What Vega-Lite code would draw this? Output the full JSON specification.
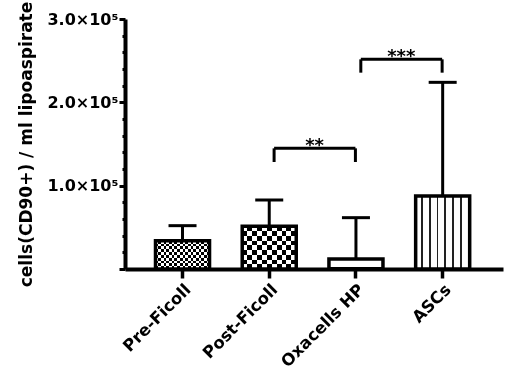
{
  "$schema": "https://vega.github.io/schema/vega-lite/v6.json",
  "width": 378,
  "height": 250,
  "autosize": {"type": "none"},
  "padding": {"left": 125, "top": 19, "right": 11, "bottom": 109},
  "background": "white",
  "config": {
    "view": {"stroke": null},
    "font": "DejaVu Sans",
    "axis": {"grid": false, "domainColor": "black", "tickColor": "black", "labelColor": "black", "titleColor": "black", "labelFont": "DejaVu Sans", "titleFont": "DejaVu Sans", "labelFontWeight": "bold", "titleFontWeight": "bold"}
  },
  "datasets": {
    "bars": [
      {"group": "Pre-Ficoll", "mean": 34000, "upper": 52000},
      {"group": "Post-Ficoll", "mean": 51200, "upper": 82800},
      {"group": "Oxacells HP", "mean": 12000, "upper": 61600},
      {"group": "ASCs", "mean": 87600, "upper": 224000}
    ],
    "brackets": [
      {"from": "Post-Ficoll", "to": "Oxacells HP", "top": 144800, "bottom": 128400, "label": "**"},
      {"from": "Oxacells HP", "to": "ASCs", "top": 251600, "bottom": 235600, "label": "***"}
    ]
  },
  "data": {"name": "bars"},
  "encoding": {
    "x": {
      "field": "group", "type": "nominal", "sort": null,
      "scale": {"paddingInner": 0.377, "paddingOuter": 0.368, "align": 0.478},
      "axis": {"title": null, "domainWidth": 4, "tickWidth": 3.5, "tickSize": 9, "labelAngle": -45, "labelAlign": "right", "labelBaseline": "top", "labelFontSize": 16.5, "labelPadding": 3}
    },
    "y": {
      "field": "mean", "type": "quantitative",
      "scale": {"domain": [0, 300000], "nice": false},
      "axis": {
        "title": "cells(CD90+) / ml lipoaspirate", "titleFontSize": 17, "titlePadding": 11,
        "domainWidth": 4, "tickWidth": 3,
        "values": [0, 20000, 40000, 60000, 80000, 100000, 120000, 140000, 160000, 180000, 200000, 220000, 240000, 260000, 280000, 300000],
        "tickSize": {"condition": {"test": "datum.value % 100000 === 0", "value": 6}, "value": 3},
        "labelExpr": "datum.value > 0 && datum.value % 100000 === 0 ? format(datum.value / 100000, '.1f') + '×10⁵' : ''",
        "labelFontSize": 16, "labelPadding": 1
      }
    }
  },
  "layer": [
    {"mark": {"type": "rule", "strokeWidth": 3, "color": "black"}, "encoding": {"y2": {"field": "upper"}}},
    {"mark": {"type": "tick", "size": 28, "thickness": 3, "color": "black", "opacity": 1}, "encoding": {"y": {"field": "upper", "type": "quantitative"}}},
    {
      "transform": [{"filter": "datum.group === 'Pre-Ficoll'"}],
      "mark": {"type": "bar", "fill": {"gradient": "linear", "x1": 0, "y1": 0, "x2": 1, "y2": 0, "stops": [
        {"offset": 0, "color": "black"}, {"offset": 0.05, "color": "black"}, {"offset": 0.05, "color": "white"}, {"offset": 0.1, "color": "white"},
        {"offset": 0.1, "color": "black"}, {"offset": 0.15, "color": "black"}, {"offset": 0.15, "color": "white"}, {"offset": 0.2, "color": "white"},
        {"offset": 0.2, "color": "black"}, {"offset": 0.25, "color": "black"}, {"offset": 0.25, "color": "white"}, {"offset": 0.3, "color": "white"},
        {"offset": 0.3, "color": "black"}, {"offset": 0.35, "color": "black"}, {"offset": 0.35, "color": "white"}, {"offset": 0.4, "color": "white"},
        {"offset": 0.4, "color": "black"}, {"offset": 0.45, "color": "black"}, {"offset": 0.45, "color": "white"}, {"offset": 0.5, "color": "white"},
        {"offset": 0.5, "color": "black"}, {"offset": 0.55, "color": "black"}, {"offset": 0.55, "color": "white"}, {"offset": 0.6, "color": "white"},
        {"offset": 0.6, "color": "black"}, {"offset": 0.65, "color": "black"}, {"offset": 0.65, "color": "white"}, {"offset": 0.7, "color": "white"},
        {"offset": 0.7, "color": "black"}, {"offset": 0.75, "color": "black"}, {"offset": 0.75, "color": "white"}, {"offset": 0.8, "color": "white"},
        {"offset": 0.8, "color": "black"}, {"offset": 0.85, "color": "black"}, {"offset": 0.85, "color": "white"}, {"offset": 0.9, "color": "white"},
        {"offset": 0.9, "color": "black"}, {"offset": 0.95, "color": "black"}, {"offset": 0.95, "color": "white"}, {"offset": 1, "color": "white"}
      ]}, "fillOpacity": 1}
    },
    {
      "transform": [{"filter": "datum.group === 'Pre-Ficoll'"}],
      "mark": {"type": "bar", "blend": "difference", "fill": {"gradient": "linear", "x1": 0, "y1": 0, "x2": 0, "y2": 1, "stops": [
        {"offset": 0, "color": "white"}, {"offset": 0.1, "color": "white"}, {"offset": 0.1, "color": "rgba(255,255,255,0)"}, {"offset": 0.2, "color": "rgba(255,255,255,0)"},
        {"offset": 0.2, "color": "white"}, {"offset": 0.3, "color": "white"}, {"offset": 0.3, "color": "rgba(255,255,255,0)"}, {"offset": 0.4, "color": "rgba(255,255,255,0)"},
        {"offset": 0.4, "color": "white"}, {"offset": 0.5, "color": "white"}, {"offset": 0.5, "color": "rgba(255,255,255,0)"}, {"offset": 0.6, "color": "rgba(255,255,255,0)"},
        {"offset": 0.6, "color": "white"}, {"offset": 0.7, "color": "white"}, {"offset": 0.7, "color": "rgba(255,255,255,0)"}, {"offset": 0.8, "color": "rgba(255,255,255,0)"},
        {"offset": 0.8, "color": "white"}, {"offset": 0.9, "color": "white"}, {"offset": 0.9, "color": "rgba(255,255,255,0)"}, {"offset": 1, "color": "rgba(255,255,255,0)"}
      ]}, "fillOpacity": 1}
    },
    {
      "transform": [{"filter": "datum.group === 'Post-Ficoll'"}],
      "mark": {"type": "bar", "fill": {"gradient": "linear", "x1": 0, "y1": 0, "x2": 1, "y2": 0, "stops": [
        {"offset": 0, "color": "black"}, {"offset": 0.0909, "color": "black"}, {"offset": 0.0909, "color": "white"}, {"offset": 0.1818, "color": "white"},
        {"offset": 0.1818, "color": "black"}, {"offset": 0.2727, "color": "black"}, {"offset": 0.2727, "color": "white"}, {"offset": 0.3636, "color": "white"},
        {"offset": 0.3636, "color": "black"}, {"offset": 0.4545, "color": "black"}, {"offset": 0.4545, "color": "white"}, {"offset": 0.5455, "color": "white"},
        {"offset": 0.5455, "color": "black"}, {"offset": 0.6364, "color": "black"}, {"offset": 0.6364, "color": "white"}, {"offset": 0.7273, "color": "white"},
        {"offset": 0.7273, "color": "black"}, {"offset": 0.8182, "color": "black"}, {"offset": 0.8182, "color": "white"}, {"offset": 0.9091, "color": "white"},
        {"offset": 0.9091, "color": "black"}, {"offset": 1, "color": "black"}
      ]}, "fillOpacity": 1}
    },
    {
      "transform": [{"filter": "datum.group === 'Post-Ficoll'"}],
      "mark": {"type": "bar", "blend": "difference", "fill": {"gradient": "linear", "x1": 0, "y1": 0, "x2": 0, "y2": 1, "stops": [
        {"offset": 0, "color": "white"}, {"offset": 0.1111, "color": "white"}, {"offset": 0.1111, "color": "rgba(255,255,255,0)"}, {"offset": 0.2222, "color": "rgba(255,255,255,0)"},
        {"offset": 0.2222, "color": "white"}, {"offset": 0.3333, "color": "white"}, {"offset": 0.3333, "color": "rgba(255,255,255,0)"}, {"offset": 0.4444, "color": "rgba(255,255,255,0)"},
        {"offset": 0.4444, "color": "white"}, {"offset": 0.5556, "color": "white"}, {"offset": 0.5556, "color": "rgba(255,255,255,0)"}, {"offset": 0.6667, "color": "rgba(255,255,255,0)"},
        {"offset": 0.6667, "color": "white"}, {"offset": 0.7778, "color": "white"}, {"offset": 0.7778, "color": "rgba(255,255,255,0)"}, {"offset": 0.8889, "color": "rgba(255,255,255,0)"},
        {"offset": 0.8889, "color": "white"}, {"offset": 1, "color": "white"}
      ]}, "fillOpacity": 1}
    },
    {
      "transform": [{"filter": "datum.group === 'Oxacells HP'"}],
      "mark": {"type": "bar", "fill": {"gradient": "linear", "x1": 0, "y1": 0, "x2": 0, "y2": 1, "stops": [
        {"offset": 0, "color": "white"}, {"offset": 0.76, "color": "white"}, {"offset": 0.76, "color": "black"}, {"offset": 0.92, "color": "black"}, {"offset": 0.92, "color": "white"}, {"offset": 1, "color": "white"}
      ]}, "fillOpacity": 1}
    },
    {
      "transform": [{"filter": "datum.group === 'ASCs'"}],
      "mark": {"type": "bar", "fill": {"gradient": "linear", "x1": 0, "y1": 0, "x2": 1, "y2": 0, "stops": [
        {"offset": 0, "color": "white"}, {"offset": 0.1, "color": "white"}, {"offset": 0.1, "color": "#222"}, {"offset": 0.136, "color": "#222"}, {"offset": 0.136, "color": "white"},
        {"offset": 0.243, "color": "white"}, {"offset": 0.243, "color": "#222"}, {"offset": 0.279, "color": "#222"}, {"offset": 0.279, "color": "white"},
        {"offset": 0.386, "color": "white"}, {"offset": 0.386, "color": "#222"}, {"offset": 0.422, "color": "#222"}, {"offset": 0.422, "color": "white"},
        {"offset": 0.529, "color": "white"}, {"offset": 0.529, "color": "#222"}, {"offset": 0.565, "color": "#222"}, {"offset": 0.565, "color": "white"},
        {"offset": 0.672, "color": "white"}, {"offset": 0.672, "color": "#222"}, {"offset": 0.708, "color": "#222"}, {"offset": 0.708, "color": "white"},
        {"offset": 0.815, "color": "white"}, {"offset": 0.815, "color": "#222"}, {"offset": 0.851, "color": "#222"}, {"offset": 0.851, "color": "white"},
        {"offset": 1, "color": "white"}
      ]}, "fillOpacity": 1}
    },
    {"mark": {"type": "bar", "fill": null, "fillOpacity": 0, "stroke": "black", "strokeWidth": 3.5}},
    {
      "data": {"name": "brackets"},
      "mark": {"type": "rule", "strokeWidth": 3, "color": "black"},
      "encoding": {
        "x": {"field": "from", "type": "nominal", "bandPosition": 0.59},
        "x2": {"field": "to", "bandPosition": 0.49},
        "y": {"field": "top", "type": "quantitative"},
        "y2": null
      }
    },
    {
      "data": {"name": "brackets"},
      "mark": {"type": "rule", "strokeWidth": 3, "color": "black"},
      "encoding": {
        "x": {"field": "from", "type": "nominal", "bandPosition": 0.59},
        "y": {"field": "top", "type": "quantitative"},
        "y2": {"field": "bottom"}
      }
    },
    {
      "data": {"name": "brackets"},
      "mark": {"type": "rule", "strokeWidth": 3, "color": "black"},
      "encoding": {
        "x": {"field": "to", "type": "nominal", "bandPosition": 0.49},
        "y": {"field": "top", "type": "quantitative"},
        "y2": {"field": "bottom"}
      }
    },
    {
      "data": {"name": "brackets"},
      "mark": {"type": "text", "font": "DejaVu Sans", "fontWeight": "bold", "fontSize": 18, "baseline": "alphabetic", "align": "center", "dy": 3, "color": "black"},
      "encoding": {
        "x": {"field": "from", "type": "nominal", "bandPosition": 1.34},
        "y": {"field": "top", "type": "quantitative"},
        "text": {"field": "label"}
      }
    }
  ]
}
